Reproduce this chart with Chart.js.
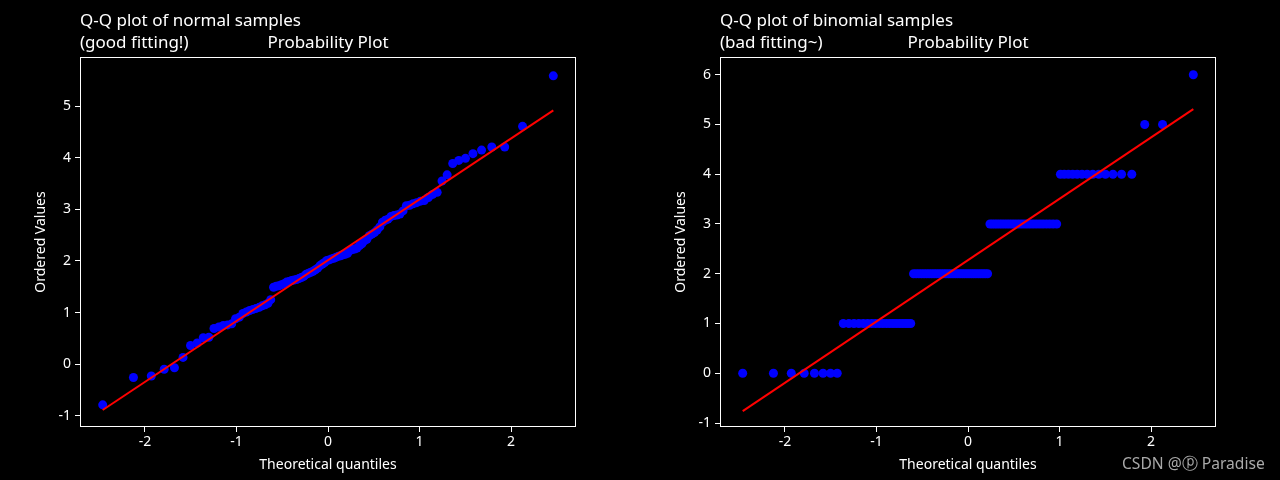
<!DOCTYPE html>
<html lang="en">
<head>
    <meta charset="UTF-8">
    <title>Q-Q plots</title>
    <script src="https://cdn.jsdelivr.net/npm/chart.js"></script>
</head>
<style>
    body {
        background-color: #000;
        margin: 0;
        padding: 0;
    }
    .row {
        display: flex;
        width: 1280px;
        height: 480px;
        position: relative;
    }
    .box {
        width: 640px;
        height: 480px;
    }
    .mark {
        position: absolute;
        left: 1122px;
        top: 452px;
        color: #a9a9a9;
        font-family: 'Noto Sans', sans-serif;
        font-size: 15.6px;
    }
</style>
<body>
    <div class="row">
        <div class="box"><canvas id="left"></canvas></div>
        <div class="box"><canvas id="right"></canvas></div>
        <div class="mark">CSDN @ⓟ Paradise</div>
    </div>

    <script>
        // theoretical quantiles (n = 100)
        const quantiles = [
            -2.462, -2.126, -1.931, -1.790, -1.678, -1.584, -1.502, -1.429, -1.363, -1.302,
            -1.246, -1.193, -1.144, -1.097, -1.052, -1.010, -0.969, -0.930, -0.892, -0.856,
            -0.820, -0.786, -0.752, -0.719, -0.687, -0.656, -0.626, -0.595, -0.566, -0.537,
            -0.508, -0.480, -0.452, -0.425, -0.397, -0.370, -0.344, -0.317, -0.291, -0.265,
            -0.240, -0.214, -0.188, -0.163, -0.138, -0.113, -0.087, -0.062, -0.037, -0.012,
            0.012, 0.037, 0.062, 0.087, 0.113, 0.138, 0.163, 0.188, 0.214, 0.240,
            0.265, 0.291, 0.317, 0.344, 0.370, 0.397, 0.425, 0.452, 0.480, 0.508,
            0.537, 0.566, 0.595, 0.626, 0.656, 0.687, 0.719, 0.752, 0.786, 0.820,
            0.856, 0.892, 0.930, 0.969, 1.010, 1.052, 1.097, 1.144, 1.193, 1.246,
            1.302, 1.363, 1.429, 1.502, 1.584, 1.678, 1.790, 1.931, 2.126, 2.462
        ];
        const normalValues = [
            -0.79, -0.26, -0.23, -0.10, -0.07, 0.13, 0.36, 0.41, 0.51, 0.52,
            0.69, 0.72, 0.75, 0.76, 0.78, 0.88, 0.91, 0.98, 1.01, 1.04,
            1.06, 1.08, 1.10, 1.13, 1.15, 1.18, 1.25, 1.49, 1.51, 1.52,
            1.54, 1.56, 1.59, 1.60, 1.62, 1.63, 1.64, 1.66, 1.68, 1.70,
            1.74, 1.76, 1.78, 1.80, 1.83, 1.86, 1.91, 1.94, 1.97, 2.01,
            2.02, 2.04, 2.05, 2.07, 2.09, 2.10, 2.12, 2.13, 2.15, 2.20,
            2.22, 2.23, 2.25, 2.30, 2.33, 2.39, 2.42, 2.49, 2.52, 2.55,
            2.60, 2.66, 2.75, 2.79, 2.81, 2.86, 2.88, 2.89, 2.91, 2.97,
            3.07, 3.08, 3.11, 3.13, 3.16, 3.17, 3.23, 3.29, 3.33, 3.55,
            3.67, 3.89, 3.95, 3.99, 4.08, 4.15, 4.21, 4.21, 4.61, 5.59
        ];
        const binomialValues = [
            0, 0, 0, 0, 0, 0, 0, 0, 1, 1,
            1, 1, 1, 1, 1, 1, 1, 1, 1, 1,
            1, 1, 1, 1, 1, 1, 1, 2, 2, 2,
            2, 2, 2, 2, 2, 2, 2, 2, 2, 2,
            2, 2, 2, 2, 2, 2, 2, 2, 2, 2,
            2, 2, 2, 2, 2, 2, 2, 2, 2, 3,
            3, 3, 3, 3, 3, 3, 3, 3, 3, 3,
            3, 3, 3, 3, 3, 3, 3, 3, 3, 3,
            3, 3, 3, 3, 4, 4, 4, 4, 4, 4,
            4, 4, 4, 4, 4, 4, 4, 5, 5, 6
        ];
        // fitted line: y at first and last quantile
        const normalFit = [-0.89, 4.92];
        const binomialFit = [-0.76, 5.31];

        const xTicks = [-2, -1, 0, 1, 2];
        const normalYTicks = [-1, 0, 1, 2, 3, 4, 5];
        const binomialYTicks = [-1, 0, 1, 2, 3, 4, 5, 6];

        const font = "'Noto Sans', sans-serif";

        const frameText = {
            id: 'frameText',
            afterDraw(chart, args, opts) {
                const ctx = chart.ctx;
                const a = chart.chartArea;
                ctx.save();
                ctx.strokeStyle = '#fff';
                ctx.lineWidth = 1;
                ctx.strokeRect(a.left + 0.5, a.top + 0.5, a.right - a.left - 1, a.bottom - a.top - 1);

                ctx.fillStyle = '#fff';
                ctx.textBaseline = 'middle';
                ctx.font = '17px ' + font;
                ctx.textAlign = 'left';
                ctx.fillText(opts.title[0], a.left, 21);
                ctx.fillText(opts.title[1], a.left, 43);
                ctx.textAlign = 'center';
                ctx.fillText('Probability Plot', (a.left + a.right) / 2, 43);

                ctx.font = '14px ' + font;
                ctx.fillText('Theoretical quantiles', (a.left + a.right) / 2, 465);
                ctx.translate(41, (a.top + a.bottom) / 2);
                ctx.rotate(-Math.PI / 2);
                ctx.fillText('Ordered Values', 0, 0);
                ctx.restore();
            }
        };

        function makeChart(id, values, fit, yTicks, yMin, yMax, title) {
            const ctx = document.getElementById(id).getContext('2d');
            const n = quantiles.length;
            return new Chart(ctx, {
                type: 'scatter',
                data: {
                    datasets: [{
                        type: 'line',
                        data: [{ x: quantiles[0], y: fit[0] }, { x: quantiles[n - 1], y: fit[1] }],
                        borderColor: '#ff0000',
                        borderWidth: 2,
                        pointRadius: 0,
                        fill: false,
                    }, {
                        data: quantiles.map((q, i) => ({ x: q, y: values[i] })),
                        backgroundColor: '#0000ff',
                        borderWidth: 0,
                        pointRadius: 4.5,
                    }]
                },
                options: {
                    animation: false,
                    responsive: true,
                    maintainAspectRatio: false,
                    layout: { padding: { top: 57, right: 64, left: 0, bottom: 0 } },
                    plugins: {
                        legend: { display: false },
                        tooltip: { enabled: false },
                        frameText: { title: title }
                    },
                    scales: {
                        x: {
                            type: 'linear',
                            min: -2.71,
                            max: 2.71,
                            afterBuildTicks: s => { s.ticks = xTicks.map(v => ({ value: v })); },
                            afterFit: s => { s.height = 53; },
                            grid: { drawOnChartArea: false, color: '#fff', tickLength: 5 },
                            border: { display: false },
                            ticks: { color: '#fff', font: { family: font, size: 14 }, padding: 2, maxRotation: 0 }
                        },
                        y: {
                            type: 'linear',
                            min: yMin,
                            max: yMax,
                            afterBuildTicks: s => { s.ticks = yTicks.map(v => ({ value: v })); },
                            afterFit: s => { s.width = 80; },
                            grid: { drawOnChartArea: false, color: '#fff', tickLength: 5 },
                            border: { display: false },
                            ticks: { color: '#fff', font: { family: font, size: 14 }, padding: 4 }
                        }
                    }
                },
                plugins: [frameText]
            });
        }

        makeChart('left', normalValues, normalFit, normalYTicks, -1.22, 5.955,
            ['Q-Q plot of normal samples', '(good fitting!)']);
        makeChart('right', binomialValues, binomialFit, binomialYTicks, -1.08, 6.356,
            ['Q-Q plot of binomial samples', '(bad fitting~)']);
    </script>
</body>
</html>
